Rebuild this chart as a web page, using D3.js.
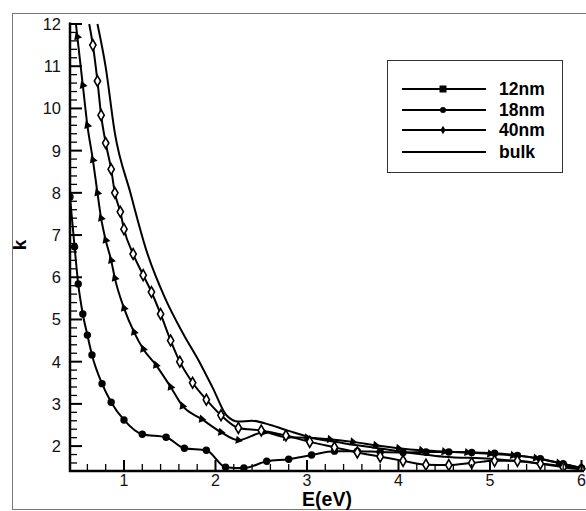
<!DOCTYPE html>
<html><head><meta charset="utf-8">
<script src="https://cdn.jsdelivr.net/npm/d3@7"></script>
<style>body{margin:0;background:#fff}svg{display:block}text{font-family:Arial,"Liberation Sans",sans-serif}</style>
</head><body><svg id="c" width="586" height="511"></svg>
<script>
const E12=[0.41,0.46,0.50,0.55,0.60,0.65,0.76,0.86,1.00,1.20,1.46,1.66,1.90,2.11,2.31,2.56,2.80,3.05,3.30,3.55,3.80,4.05,4.30,4.55,4.80,5.05,5.30,5.55,5.80,6.00];
const k12=[7.9,6.72,5.84,5.13,4.63,4.16,3.48,3.04,2.62,2.28,2.21,1.95,1.9,1.5,1.48,1.64,1.69,1.79,1.88,1.88,1.86,1.85,1.86,1.86,1.85,1.83,1.78,1.7,1.58,1.48];
const E18=[0.475,0.49,0.55,0.60,0.66,0.71,0.75,0.80,0.86,0.90,1.00,1.11,1.21,1.35,1.51,1.64,1.85,2.06,2.25,2.53,2.77,3.00,3.25,3.50,3.75,4.00,4.25,4.50,4.75,5.00,5.25,5.50,5.75,6.00];
const k18=[12,11.7,10.55,9.6,8.78,8.0,7.4,6.88,6.4,5.98,5.27,4.7,4.3,3.92,3.4,2.95,2.64,2.33,2.14,2.33,2.21,2.2,2.16,2.1,2.02,1.95,1.9,1.87,1.85,1.82,1.78,1.72,1.6,1.48];
const E40=[0.62,0.66,0.71,0.75,0.80,0.86,0.90,0.96,1.00,1.10,1.21,1.30,1.40,1.51,1.61,1.75,1.90,2.06,2.25,2.50,2.77,3.03,3.30,3.55,3.80,4.05,4.30,4.55,4.80,5.05,5.30,5.55,5.80,6.00];
const k40=[12,11.5,10.65,9.84,9.18,8.56,8.0,7.55,7.14,6.55,6.05,5.65,5.13,4.5,4.0,3.5,3.1,2.73,2.43,2.37,2.25,2.1,1.97,1.85,1.75,1.65,1.56,1.55,1.6,1.65,1.65,1.58,1.5,1.45];
const Ebulk=[0.71,0.80,0.90,1.07,1.25,1.45,1.65,1.83,1.97,2.12,2.25,2.40,2.60,2.80,3.05,3.40,3.78,4.00,4.50,5.00,5.50,6.00];
const kbulk=[12,10.98,9.42,8.0,6.6,5.5,4.65,3.97,3.38,2.73,2.58,2.6,2.5,2.36,2.2,2.07,1.95,1.88,1.75,1.7,1.6,1.47];
const xTicks=[1,2,3,4,5,6];
const yTicks=[2,3,4,5,6,7,8,9,10,11,12];
const seriesNames=["12nm","18nm","40nm","bulk"];

const svg=d3.select("#c");
const x=d3.scaleLinear().domain([0.41,6.0]).range([70,581.5]);
const y=d3.scaleLinear().domain([1.41,12]).range([471,24]);

svg.append("rect").attr("x",12.5).attr("y",13.5).attr("width",600).attr("height",496).attr("fill","none").attr("stroke","#777").attr("stroke-width",1);

svg.append("clipPath").attr("id","pc").append("rect").attr("x",70).attr("y",23).attr("width",516).attr("height",448);

const line=d3.line().x(d=>x(d[0])).y(d=>y(d[1])).curve(d3.curveMonotoneX);
const mk=(E,K)=>E.map((e,i)=>[e,K[i]]);
const series=[
 {name:seriesNames[0],data:mk(E12,k12),marker:"circle"},
 {name:seriesNames[1],data:mk(E18,k18),marker:"tri"},
 {name:seriesNames[2],data:mk(E40,k40),marker:"diamond"},
 {name:seriesNames[3],data:mk(Ebulk,kbulk),marker:null}
];
const g=svg.append("g").attr("clip-path","url(#pc)");
series.forEach(s=>{
  g.append("path").attr("d",line(s.data)).attr("fill","none").attr("stroke","#000").attr("stroke-width",2);
});
function drawMarker(sel,type,cx,cy,legend){
  if(type==="circle"){
    if(legend) sel.append("rect").attr("x",cx-3.5).attr("y",cy-3.5).attr("width",7).attr("height",7).attr("fill","#000");
    else sel.append("circle").attr("cx",cx).attr("cy",cy).attr("r",3.7).attr("fill","#000");
  } else if(type==="tri"){
    if(legend) sel.append("circle").attr("cx",cx).attr("cy",cy).attr("r",3).attr("fill","#000");
    else sel.append("path").attr("d",d3.symbol(d3.symbolTriangle,30)()).attr("transform",`translate(${cx},${cy}) rotate(-20)`).attr("fill","#000");
  } else if(type==="diamond"){
    if(legend) sel.append("path").attr("d",d3.symbol(d3.symbolDiamond,22)()).attr("transform",`translate(${cx},${cy})`).attr("fill","#000");
    else sel.append("path").attr("d",d3.symbol(d3.symbolDiamond,34)()).attr("transform",`translate(${cx},${cy})`).attr("fill","#fff").attr("stroke","#000").attr("stroke-width",1.6);
  }
}
series.forEach(s=>{
  if(!s.marker) return;
  s.data.forEach(d=>{ if(d[1]<11.95) drawMarker(g,s.marker,x(d[0]),y(d[1]),false); });
});

const ax=svg.append("g");
d3.range(1.6,12.001,0.2).forEach(v=>{
  const major=Math.abs(v-Math.round(v))<1e-6;
  ax.append("line").attr("x1",70).attr("x2",70+(major?12:7)).attr("y1",y(v)).attr("y2",y(v)).attr("stroke","#000").attr("stroke-width",major?2:1.3);
});
d3.range(0.6,6.001,0.2).forEach(v=>{
  const major=Math.abs(v-Math.round(v))<1e-6;
  ax.append("line").attr("y1",471).attr("y2",471-(major?11:7)).attr("x1",x(v)).attr("x2",x(v)).attr("stroke","#000").attr("stroke-width",major?2:1.3);
});
ax.append("line").attr("x1",70).attr("x2",70).attr("y1",22.5).attr("y2",472).attr("stroke","#000").attr("stroke-width",2.5);
ax.append("line").attr("x1",69).attr("x2",584).attr("y1",471).attr("y2",471).attr("stroke","#000").attr("stroke-width",2.5);
yTicks.forEach(v=>{
  ax.append("text").attr("x",61).attr("y",y(v)+6).attr("text-anchor","end").attr("font-size",16.5).attr("fill","#111").text(v);
});
xTicks.forEach(v=>{
  ax.append("text").attr("x",x(v)).attr("y",485.5).attr("text-anchor","middle").attr("font-size",16).attr("fill","#111").text(v);
});
svg.append("text").attr("x",327).attr("y",506.3).attr("text-anchor","middle").attr("font-size",19.5).attr("font-weight","bold").text("E(eV)");
svg.append("text").attr("transform","translate(26,245) rotate(-90)").attr("text-anchor","middle").attr("font-size",19).attr("font-weight","bold").text("k");

const lg=svg.append("g");
lg.append("rect").attr("x",387.5).attr("y",60.5).attr("width",175).attr("height",112).attr("fill","#fff").attr("stroke","#333").attr("stroke-width",1);
const ly=[89,110,130,152];
series.forEach((s,i)=>{
  lg.append("line").attr("x1",402).attr("x2",486).attr("y1",ly[i]).attr("y2",ly[i]).attr("stroke","#000").attr("stroke-width",2);
  if(s.marker) drawMarker(lg,s.marker,443,ly[i],true);
  lg.append("text").attr("x",499).attr("y",ly[i]+6).attr("font-size",17.5).attr("font-weight","bold").text(s.name);
});
</script></body></html>
